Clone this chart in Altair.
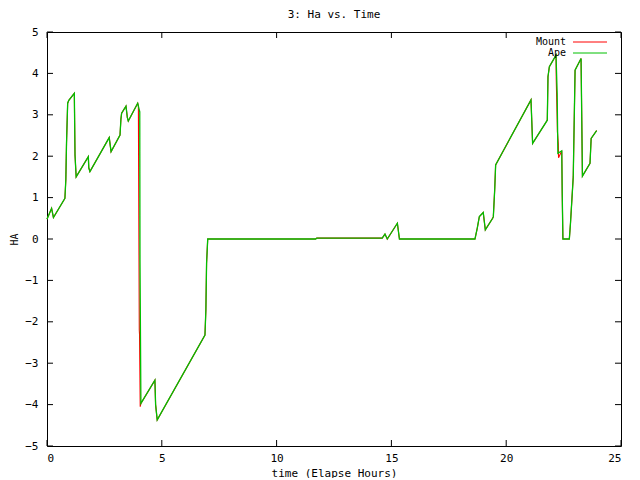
import altair as alt
import pandas as pd

# ---- data ----
ape_hours = [0.0, 0.2, 0.28, 0.78, 0.82, 0.85, 0.90, 0.95, 1.19, 1.22, 1.27, 1.8, 1.82, 1.87,
             2.71, 2.79, 3.18, 3.22, 3.25, 3.44, 3.50, 3.54, 3.95, 4.04, 4.05, 4.09,
             4.70, 4.73, 4.80, 6.88, 6.92, 6.95, 7.0, 11.7, 11.75, 14.6, 14.72, 14.82,
             15.26, 15.35, 18.64, 18.74, 18.83, 19.0, 19.09, 19.41, 19.44, 19.5, 19.54,
             21.08, 21.15, 21.79, 21.82, 21.88, 22.17, 22.22, 22.25, 22.42, 22.44, 22.47,
             22.75, 22.8, 22.92, 23.0, 23.26, 23.29, 23.32, 23.65, 23.7, 23.94]
ape_ha = [0.48, 0.74, 0.52, 0.98, 1.43, 2.31, 3.28, 3.35, 3.52, 2.03, 1.5, 1.99, 1.72, 1.63,
          2.45, 2.11, 2.51, 2.9, 3.04, 3.21, 2.93, 2.85, 3.28, 3.07, -0.5, -3.97,
          -3.41, -4.0, -4.37, -2.32, -1.71, -0.59, 0.0, 0.0, 0.02, 0.02, 0.12, 0.0,
          0.38, 0.0, 0.0, 0.26, 0.54, 0.64, 0.22, 0.5, 0.54, 1.2, 1.79,
          3.36, 2.31, 2.87, 3.92, 4.16, 4.44, 3.5, 2.07, 2.13, 1.1, 0.0,
          0.0, 0.38, 1.5, 4.08, 4.36, 2.95, 1.52, 1.83, 2.43, 2.62]

mount_hours = [0.0, 0.2, 0.28, 0.78, 0.82, 0.85, 0.90, 0.95, 1.19, 1.22, 1.27, 1.8, 1.82, 1.87,
               2.71, 2.79, 3.18, 3.22, 3.25, 3.44, 3.50, 3.54, 3.95, 3.98, 4.02, 4.03, 4.06,
               4.09, 4.70, 4.73, 4.80, 6.88, 6.92, 6.95, 7.0, 11.7, 11.75, 14.6, 14.72, 14.82,
               15.26, 15.35, 18.64, 18.74, 18.83, 19.0, 19.09, 19.41, 19.44, 19.5, 19.54,
               21.08, 21.15, 21.79, 21.82, 21.88, 22.17, 22.18, 22.22, 22.23, 22.27, 22.28,
               22.42, 22.44, 22.47, 22.75, 22.8, 22.92, 23.0, 23.26, 23.29, 23.32, 23.65,
               23.7, 23.94]
mount_ha = [0.48, 0.74, 0.52, 0.98, 1.43, 2.31, 3.28, 3.35, 3.52, 2.03, 1.5, 1.99, 1.72, 1.63,
            2.45, 2.11, 2.51, 2.9, 3.04, 3.21, 2.93, 2.85, 3.28, 3.22, -2.2, -2.3, -4.05,
            -3.97, -3.41, -4.0, -4.37, -2.32, -1.71, -0.59, 0.0, 0.0, 0.02, 0.02, 0.12, 0.0,
            0.38, 0.0, 0.0, 0.26, 0.54, 0.64, 0.22, 0.5, 0.54, 1.2, 1.79,
            3.36, 2.31, 2.87, 3.92, 4.16, 4.44, 3.85, 2.9, 2.6, 2.3, 1.96,
            2.13, 1.1, 0.0, 0.0, 0.38, 1.5, 4.08, 4.36, 2.95, 1.52, 1.83,
            2.43, 2.62]

series_names = ["Mount", "Ape"]
series_colors = ["#ff0000", "#00c000"]
series_widths = [1.1, 1.3]
x_ticks = [0, 5, 10, 15, 20, 25]
y_ticks = [-5, -4, -3, -2, -1, 0, 1, 2, 3, 4, 5]

W, H = 574, 414
FONT = "DejaVu Sans Mono"

rows = []
for name, hs, vs in [("Mount", mount_hours, mount_ha), ("Ape", ape_hours, ape_ha)]:
    for i, (h, v) in enumerate(zip(hs, vs)):
        rows.append({"series": name, "hours": h, "ha": v, "idx": i})
df = pd.DataFrame(rows)

xscale = alt.Scale(domain=[0, 25], nice=False, zero=False)
yscale = alt.Scale(domain=[-5, 5], nice=False, zero=False)
cscale = alt.Scale(domain=series_names, range=series_colors)

x_axis = alt.Axis(values=x_ticks, title="time (Elapse Hours)", grid=False, ticks=False,
                  domain=False, labelPadding=6, titlePadding=4, format="d",
                  labelFont=FONT, labelFontSize=11, labelColor="black",
                  titleFont=FONT, titleFontSize=11, titleColor="black",
                  titleFontWeight="normal")
y_axis = alt.Axis(values=y_ticks, title="HA", grid=False, ticks=False, domain=False,
                  labelPadding=9, titlePadding=5, format="d",
                  labelFont=FONT, labelFontSize=11, labelColor="black",
                  titleFont=FONT, titleFontSize=10, titleColor="black",
                  titleFontWeight="normal")

lines = []
for name, sw in zip(series_names, series_widths):
    lines.append(
        alt.Chart(df[df.series == name]).mark_line(strokeWidth=sw, interpolate="linear").encode(
            x=alt.X("hours:Q", scale=xscale, axis=x_axis),
            y=alt.Y("ha:Q", scale=yscale, axis=y_axis),
            color=alt.Color("series:N", scale=cscale, legend=None),
            order="idx:Q",
        )
    )

xt = pd.DataFrame({"t": x_ticks})
yt = pd.DataFrame({"t": y_ticks})
tick_layers = [
    alt.Chart(xt).mark_rule(color="black", strokeWidth=1).encode(
        x=alt.X("t:Q", scale=xscale), y=alt.value(H), y2=alt.value(H - 6)),
    alt.Chart(xt).mark_rule(color="black", strokeWidth=1).encode(
        x=alt.X("t:Q", scale=xscale), y=alt.value(0), y2=alt.value(6)),
    alt.Chart(yt).mark_rule(color="black", strokeWidth=1).encode(
        y=alt.Y("t:Q", scale=yscale), x=alt.value(0), x2=alt.value(6)),
    alt.Chart(yt).mark_rule(color="black", strokeWidth=1).encode(
        y=alt.Y("t:Q", scale=yscale), x=alt.value(W), x2=alt.value(W - 6)),
]

legend_layers = []
for i, (name, col) in enumerate(zip(series_names, series_colors)):
    ld = pd.DataFrame({"series": [name]})
    legend_layers.append(
        alt.Chart(ld).mark_text(align="right", baseline="middle", font=FONT, fontSize=10,
                                color="black").encode(
            text="series:N", x=alt.value(519), y=alt.value(10 + 11 * i)))
    legend_layers.append(
        alt.Chart(ld).mark_rule(strokeWidth=1).encode(
            color=alt.Color("series:N", scale=cscale, legend=None),
            x=alt.value(526), x2=alt.value(560), y=alt.value(10 + 11 * i)))

chart = alt.layer(*lines, *tick_layers, *legend_layers).properties(
    width=W, height=H,
    title=alt.Title("3: Ha vs. Time", font=FONT, fontSize=11, fontWeight="normal",
                    color="black", anchor="middle", offset=6),
    autosize=alt.AutoSizeParams(type="none"),
    padding={"left": 39, "top": 24, "right": 11, "bottom": 32},
    background="white",
).configure_view(stroke="black", strokeWidth=1)

chart.save("out.html", embed_options={"renderer": "svg", "actions": False})
